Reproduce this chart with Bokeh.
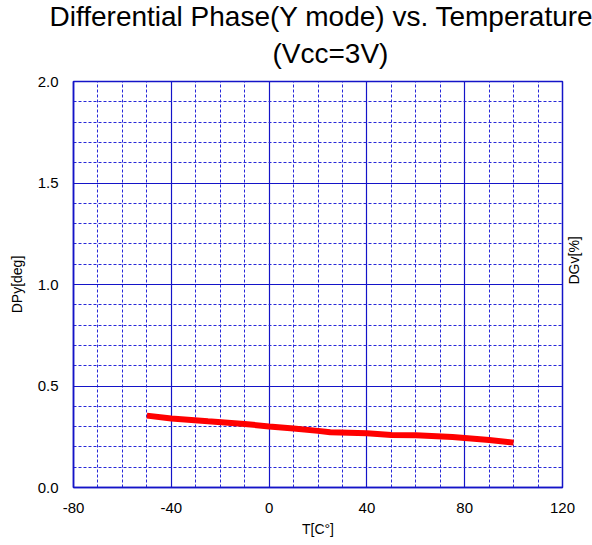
import math
from bokeh.plotting import figure
from bokeh.models import LinearAxis, FixedTicker, Range1d, CustomJSTickFormatter, Title
from bokeh.embed import file_html
from bokeh.resources import INLINE

# Data
temps = [-50, -40, -25, -10, 0, 10, 20, 25, 40, 50, 60, 75, 90, 100]
dpy = [0.354, 0.340, 0.326, 0.313, 0.301, 0.291, 0.279, 0.272, 0.267, 0.259, 0.257, 0.249, 0.234, 0.221]

x_ticks = [-80, -40, 0, 40, 80, 120]
y_ticks = [0.0, 0.5, 1.0, 1.5, 2.0]

title_line1 = "Differential Phase(Y mode) vs. Temperature"
title_line2 = "(Vcc=3V)"
x_label = "T[C\u00b0]"
y_label = "DPy[deg]"
y2_label = "DGv[%]"

FONT = "Liberation Sans"
BLUE = "#1414C8"

p = figure(width=592, height=545, output_backend="svg", toolbar_location=None,
           x_range=Range1d(x_ticks[0], x_ticks[-1]), y_range=Range1d(y_ticks[0], y_ticks[-1]),
           min_border_left=73, min_border_right=29, min_border_top=81, min_border_bottom=58,
           x_axis_label=x_label, y_axis_label=y_label)

p.title.text = title_line1
p.title.align = "left"
p.title.offset = -24
p.title.text_font = FONT
p.title.text_font_size = "28px"
p.title.text_font_style = "normal"
p.title.text_color = "black"
p.title.text_line_height = 1.0
p.title.standoff = -17

t2 = Title(text=title_line2, align="left", offset=199, text_font=FONT, text_font_size="28px",
           text_font_style="normal", text_color="black", standoff=25, text_line_height=1.0)
p.add_layout(t2, "above")

p.background_fill_color = "white"
p.border_fill_color = "white"
p.outline_line_color = BLUE
p.outline_line_width = 1.5

p.xaxis.ticker = FixedTicker(ticks=x_ticks, minor_ticks=[v for v in range(-80, 121, 10)])
p.yaxis.ticker = FixedTicker(ticks=y_ticks, minor_ticks=[i / 10 for i in range(0, 21)])
p.xaxis.formatter = CustomJSTickFormatter(code="return tick.toFixed(0);")
p.yaxis.formatter = CustomJSTickFormatter(code="return tick.toFixed(1);")

for ax in (p.xaxis[0], p.yaxis[0]):
    ax.axis_line_color = BLUE
    ax.axis_line_width = 1.5
    ax.major_tick_line_color = None
    ax.minor_tick_line_color = None
    ax.major_tick_out = 0
    ax.major_tick_in = 0
    ax.minor_tick_out = 0
    ax.major_label_text_font = FONT
    ax.major_label_text_font_size = "15px"
    ax.major_label_text_color = "black"
    ax.axis_label_text_font = FONT
    ax.axis_label_text_font_size = "14px"
    ax.axis_label_text_font_style = "normal"
    ax.axis_label_text_color = "black"

p.yaxis.major_label_standoff = 15
p.yaxis.axis_label_standoff = 10
p.xaxis.major_label_standoff = 15
p.xaxis.axis_label_standoff = 5

right = LinearAxis(ticker=FixedTicker(ticks=[]), axis_label=y2_label)
right.axis_line_color = None
right.major_tick_line_color = None
right.minor_tick_line_color = None
right.major_tick_out = 0
right.major_label_standoff = 0
right.axis_label_standoff = 11
right.axis_label_text_font = FONT
right.axis_label_text_font_size = "14px"
right.axis_label_text_font_style = "normal"
right.axis_label_text_color = "black"
right.axis_label_orientation = math.pi / 2
p.add_layout(right, "right")

for g in (p.xgrid[0], p.ygrid[0]):
    g.grid_line_color = BLUE
    g.grid_line_width = 1.2
    g.minor_grid_line_color = "#2828D8"
    g.minor_grid_line_width = 1
    g.minor_grid_line_dash = "3 2"

p.line(temps, dpy, line_color="#FF0000", line_width=6)

open("out.html", "w").write(file_html(p, INLINE))
